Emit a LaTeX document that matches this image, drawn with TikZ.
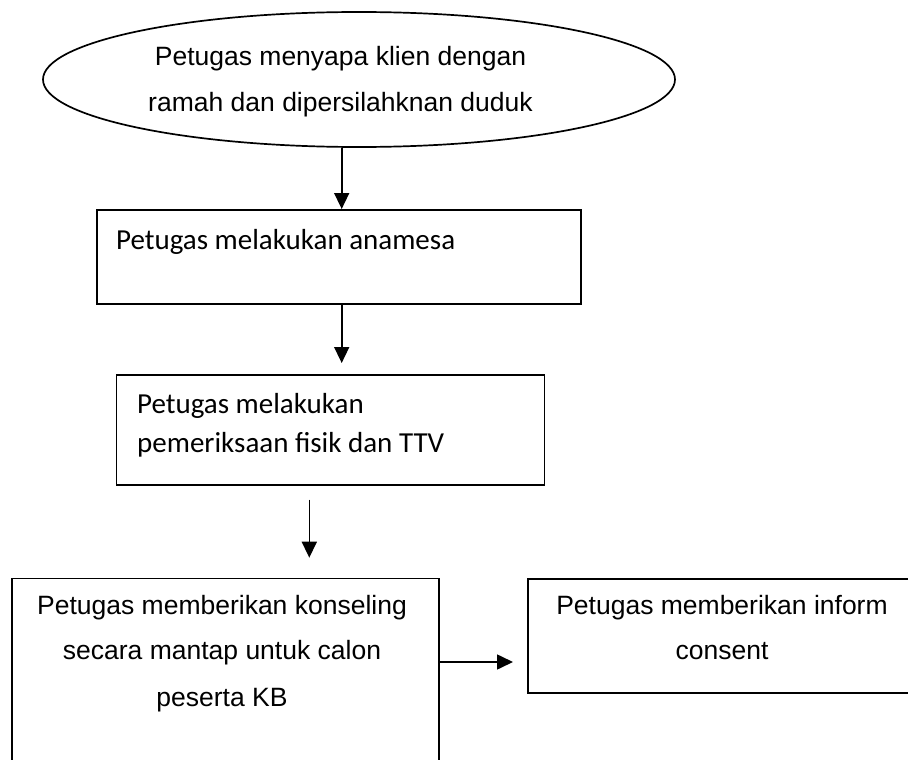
\documentclass[tikz,border=0pt]{standalone}
\usepackage{fontspec}
\setmainfont{Liberation Sans}
\newfontfamily\calfont{Carlito}
\usetikzlibrary{shapes.geometric,arrows.meta,calc}
\tikzset{
  boxshape/.style={draw, line width=1.7pt, rectangle, inner sep=0pt, anchor=north west},
  arr/.style={line width=1.6pt, -{Triangle[width=15pt,length=16pt]}},
  ariallbl/.style={inner sep=0pt, anchor=base, font=\fontsize{26.5}{30}\selectfont},
  callbl/.style={inner sep=0pt, anchor=base west, font=\calfont\fontsize{29}{34}\selectfont}
}
\begin{document}
\begin{tikzpicture}[x=1pt,y=-1pt]
\useasboundingbox (0,0) rectangle (908,760);
\clip (0,0) rectangle (908,760);
\fill[white] (0,0) rectangle (908,760);
% shapes
\node[draw, line width=1.7pt, ellipse, inner sep=0pt, minimum width=632pt, minimum height=135pt] (ell) at (359,79.5) {};
\node[boxshape, minimum width=484pt, minimum height=94pt] (b1) at (96,209) {};
\node[boxshape, minimum width=428pt, minimum height=110pt] (b2) at (115.7,374) {};
\node[boxshape, minimum width=427pt, minimum height=240pt] (b3) at (11,577.7) {};
\node[boxshape, minimum width=400pt, minimum height=114pt] (b4) at (527,578) {};
% texts
\node[ariallbl] (t0a) at (340.5,66) {Petugas menyapa klien dengan};
\node[ariallbl] (t0b) at (340.5,111) {ramah dan dipersilahknan duduk};
\node[callbl] (t1) at (116,249) {Petugas melakukan anamesa};
\node[callbl] (t2a) at (137,413) {Petugas melakukan};
\node[callbl] (t2b) at (137,452) {pemeriksaan fisik dan TTV};
\node[ariallbl] (t3a) at (222,614) {Petugas memberikan konseling};
\node[ariallbl] (t3b) at (222,659) {secara mantap untuk calon};
\node[ariallbl] (t3c) at (222,706) {peserta KB};
\node[ariallbl] (t4a) at (722,614) {Petugas memberikan inform};
\node[ariallbl] (t4b) at (722,659) {consent};
% connector guides
\coordinate (x1) at (341.7,0);
\coordinate (x3) at (309.3,0);
\coordinate (y4) at (0,662);
% connectors
\draw[arr] (ell.south -| x1) -- (b1.north -| x1);
\draw[arr, shorten >=11pt] (b1.south -| x1) -- (b2.north -| x1);
\draw[arr, shorten <=14pt, shorten >=20pt] (b2.south -| x3) -- (b3.north -| x3);
\draw[arr, shorten >=14pt] (b3.east |- y4) -- (b4.west |- y4);
\end{tikzpicture}
\end{document}
